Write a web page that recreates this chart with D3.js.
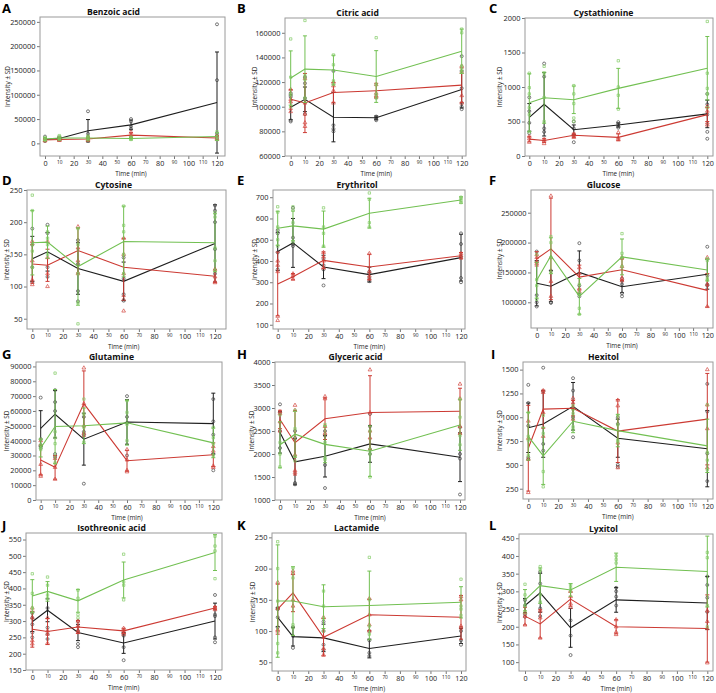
<!DOCTYPE html>
<html><head><meta charset="utf-8">
<script src="https://cdn.jsdelivr.net/npm/d3@7"></script>
<style>body{margin:0;background:#fff}svg{display:block}text{font-family:"Open Sans",sans-serif}</style>
</head><body><svg id="c" width="716" height="693"></svg>
<script>
// ---------------- DATA ----------------
const times = [0, 10, 30, 60, 120];
const xTicks = [0, 10, 20, 30, 40, 50, 60, 70, 80, 90, 100, 110, 120];
const metabolites = ["Benzoic acid","Citric acid","Cystathionine","Cytosine","Erythritol","Glucose",
  "Glutamine","Glyceric acid","Hexitol","Isothreonic acid","Lactamide","Lyxitol"];
const panelLetters = ["A","B","C","D","E","F","G","H","I","J","K","L"];
const yDomains = [[-26000,260000],[60000,172000],[0,2000],[34,250],[80,734],[57000,288000],
  [0,93000],[1000,4000],[142,1580],[150,570],[36,257],[75,462]];
const yTicks = [
  [0,50000,100000,150000,200000,250000],
  [60000,80000,100000,120000,140000,160000],
  [0,500,1000,1500,2000],
  [50,100,150,200,250],
  [100,200,300,400,500,600,700],
  [100000,150000,200000,250000],
  [0,10000,20000,30000,40000,50000,60000,70000,80000,90000],
  [1000,1500,2000,2500,3000,3500,4000],
  [250,500,750,1000,1250,1500],
  [150,200,250,300,350,400,450,500,550],
  [50,100,150,200,250],
  [100,150,200,250,300,350,400,450]
];
const blackMean = [
  [8000,10000,26000,38000,84000],[99500,106000,91500,91000,114000],[560,750,380,450,610],
  [143,154,128,108,167],[445,485,372,336,416],[132000,127000,150000,126000,147000],
  [48200,57800,41000,52600,51500],[2470,1830,1950,2220,1930],[890,930,1115,780,670],
  [298,333,265,233,300],[122,91,89,72,92],[260,296,197,276,267]];
const blackSD = [
  [3000,3000,23000,10000,104000],[10000,10000,20000,1500,15000],[200,460,70,30,200],
  [35,30,40,30,60],[90,115,55,35,110],[38000,26000,36000,10000,25000],
  [12000,16000,17500,15000,20500],[450,500,450,400,530],[260,350,250,200,400],
  [30,35,25,32,55],[15,15,22,15,12],[20,55,55,35,75]];
const redMean = [
  [7000,8000,9000,17000,11000],[106000,103000,111500,113000,117500],[245,225,300,270,600],
  [135,133,156,130,116],[292,326,403,372,425],[172800,189400,142200,154400,120000],
  [27000,22000,65000,26500,30500],[2750,2244,2765,2902,2930],[675,1085,1095,855,980],
  [275,268,282,270,340],[135,161,90,126,122],[230,208,278,200,195]];
const redSD = [
  [2500,3000,4000,5000,5000],[8000,24000,8000,6000,14000],[40,30,30,50,100],
  [30,25,35,45,10],[150,15,40,60,15],[12000,85000,20000,18000,28000],
  [10000,8000,22000,7000,8000],[200,700,450,800,500],[450,200,80,330,480],
  [55,40,20,8,5],[40,30,30,25,35],[25,40,20,20,95]];
const greenMean = [
  [9000,11000,11000,10000,14000],[123300,130500,129800,124500,145000],[772,845,815,980,1272],
  [168,169,131,170,168],[554,565,550,625,687],[137000,178000,110000,176000,154000],
  [35000,49500,50000,52000,38500],[2200,2430,2210,2060,2630],[800,595,958,860,700],
  [377,391,362,426,510],[148,148,139,141,146],[275,316,304,368,356]];
const greenSD = [
  [3000,4000,4000,3000,8000],[22000,27000,12000,21000,18000],[420,370,200,290,460],
  [50,25,60,55,45],[80,70,85,70,15],[30000,30000,30000,30000,18000],
  [6000,25000,12000,15000,10000],[500,500,400,550,550],[250,300,120,170,280],
  [50,30,35,55,55],[90,55,35,55,25],[30,50,18,40,100]];
const blackPts = [
  [[14000,9000,6000,5000],[12000,10000,8000],[66000,20000,10000,5000],[50000,45000,35000,30000],[245000,130000,20000,15000,10000]],
  [[111000,108000,89000,88000],[107000,119000,124000,94000],[129000,85000,82000,80000],[92000,91000,90000,89000],[141000,115000,103000,100000,98000]],
  [[850,650,480,330],[1340,1150,400,350],[500,400,300,200],[490,460,430,410],[900,750,600,350,250]],
  [[190,165,130,107],[196,183,130,115],[172,135,93,77],[145,112,88,78],[226,218,200,158,120]],
  [[545,530,440,360],[650,510,480,470],[410,380,360,285],[350,340,320,305],[530,480,420,320,300]],
  [[185000,168000,112000,100000,93000],[153000,100000,99000],[199000,170000,128000,110000],[140000,130000,115000,110000],[193000,145000,130000,128000]],
  [[69000,41000,37000,35000],[74000,66000,60000,31000,29000],[56000,46000,44000,11000],[70000,56000,52000,30000],[68000,53000,44000,31000,20000]],
  [[3080,2900,2500,2130],[2500,2350,1370,1340],[2500,2400,1760,1260],[2870,2600,2100,2000],[2580,2000,1900,1120]],
  [[1340,1150,910,580,560],[1520,1270,720,650],[1410,1280,1000,790],[1000,930,500,480],[1350,1060,620,330]],
  [[325,310,290,265,250],[340,280,260,245],[300,270,230,220],[260,255,220,180],[380,320,315,250,235]],
  [[137,135,122,106],[106,92,73],[115,100,78,70],[100,85,65,60],[105,100,85,78]],
  [[275,260,235,228],[355,322,252,230],[218,175,120],[310,300,285,260],[342,318,282,242]]];
const redPts = [
  [[9000,6000,5000],[10000,8000,6000],[12000,8000,6000],[23000,17000,12000],[15000,10000,8000]],
  [[114000,106000,104000,96000],[123000,103000,94000,87000,84000],[120000,117000,113000,103000],[118000,111000,109000,108000],[133000,128000,109000,103000]],
  [[280,250,200],[240,220,180],[320,300,270],[340,260,240],[720,650,480,450]],
  [[170,140,110,103],[170,145,120,100],[193,160,140,120],[175,150,120,80,62],[127,115,108,106]],
  [[400,380,350,140,120],[340,330,315],[440,420,400,370],[435,350,330,315],[435,425,415]],
  [[180000,175000,168000,165000],[278000,175000,135000,110000],[158000,148000,122000,118000],[175000,160000,140000,136000],[175000,130000,93000]],
  [[40000,24000,17000,16000],[28000,22000,14000],[89000,65000,50000,45000],[34000,27000,20000,19000],[36000,33000,23000,22000]],
  [[2920,2880,2700,2500],[3060,2950,1980,1640,1600],[3250,3200,2600,2450],[3830,2900,2500,2350],[3520,3200,2600,2450]],
  [[960,780,560,210],[1280,1260,1050,800],[1200,1150,1100,980],[1180,1120,730,470],[1500,1130,880,470]],
  [[340,310,240,230],[310,270,260,232],[300,285,270,265],[278,272,265,260],[343,340,335]],
  [[178,136,102,100],[196,192,150,140],[122,90,72,62],[152,126,110,100],[155,150,108,105]],
  [[240,230,205],[245,225,168],[300,285,265,255],[220,200,185,178],[245,215,195,98]]];
const greenPts = [
  [[12000,8000,6000],[16000,11000,8000],[15000,11000,7000],[13000,10000,8000],[24000,14000,8000]],
  [[155000,124000,110000,100000],[170000,125000,122000,107000],[142000,134000,121000,118000],[156000,118000,110000,107000],[163000,160000,133000,130000,128000]],
  [[1200,990,900,700,600,350],[1300,1200,850,500],[1020,900,760,550,500],[1380,1000,880,680],[1950,1200,980,900,700]],
  [[242,218,165,155,130],[185,175,165,150],[190,165,120,75,42],[225,195,185,150,120],[215,208,160,140,125]],
  [[655,630,560,500,470],[655,640,580,490],[650,560,530,470],[720,690,580,560],[700,695,685,675]],
  [[180000,138000,128000,105000],[210000,200000,175000,150000],[130000,115000,90000,80000],[215000,182000,175000,160000],[173000,170000,140000,137000]],
  [[41000,37000,35000,34000],[85500,46000,42000,38000,25000],[68000,58000,49000,39000],[67000,59000,51000,40000],[49000,42000,38000,30000]],
  [[2850,2250,2000,1720],[2950,2550,1950,1850],[2640,2250,1920,1880],[2500,2100,2000,1500],[3200,2800,2400,2200]],
  [[1050,800,760,600],[1020,830,430,270],[1120,1040,900,870],[1020,920,760,740],[1130,630,550,450]],
  [[445,385,340,325],[435,410,380,370],[395,370,320,310],[505,420,410,365],[560,530,515,430]],
  [[243,200,148,80,65],[201,185,110,105],[164,140,120,100],[218,150,108,95],[183,140,135,125]],
  [[320,290,260,240],[370,360,290,270],[318,310,300],[400,390,380],[410,395,260,200]]];

// ---------------- LAYOUT ----------------
const frames = [[40,225,17,156],[285,466,18,156],[525,713,18,156],
  [27,226,190,329],[273,465,190,329],[531,713,190,328],
  [36,222,362,500],[275,465,362,500],[523,713,362,499],
  [26,222,533,670],[272,466,533,671],[519,713,534,671]];
const xAnchors = [[45,217],[290.7,461.7],[529.3,707.3],[32.3,215],[277.7,461],[536.7,707.3],
  [40.7,213.3],[280,460],[528.3,707.3],[32.3,215],[277.7,461],[525,707.3]];
const yLabelX = [8,255,500,7,255,500,7,252,500,7,253,500];
const letterPos = [[2,13],[237,13],[489,13],[2,185],[237,185],[489,185],[2,359],[237,359],[491,359],[2,530],[237,530],[489,530]];

const styles = [
  {mean:blackMean, sd:blackSD, pts:blackPts, line:"#1e1e1e", mark:"#444", shape:d3.symbolCircle, size:7},
  {mean:redMean, sd:redSD, pts:redPts, line:"#cc3a33", mark:"#d2463f", shape:d3.symbolTriangle, size:6},
  {mean:greenMean, sd:greenSD, pts:greenPts, line:"#72c052", mark:"#84cb67", shape:d3.symbolSquare, size:5.5}
];

const svg = d3.select("#c");

metabolites.forEach((name, i) => {
  const [L, R, T, B] = frames[i];
  const x = d3.scaleLinear().domain([0, 120]).range(xAnchors[i]);
  const y = d3.scaleLinear().domain(yDomains[i]).range([B, T]);
  const g = svg.append("g");

  const ya = g.append("g").attr("transform", `translate(${L},0)`)
    .call(d3.axisLeft(y).tickValues(yTicks[i]).tickSize(3).tickPadding(1.5).tickFormat(d3.format("d")));
  ya.select(".domain").remove();
  ya.selectAll("line").attr("stroke", "#777");
  ya.selectAll("text").attr("font-size", 7.4).attr("fill", "#222").attr("font-family", "Open Sans");

  const xa = g.append("g").attr("transform", `translate(0,${B})`)
    .call(d3.axisBottom(x).tickValues(xTicks).tickSize(3).tickPadding(2));
  xa.select(".domain").remove();
  xa.selectAll("line").attr("stroke", "#777");
  xa.selectAll("text").attr("fill", "#222").attr("font-family", "Open Sans")
    .attr("font-size", d => (d / 10) % 2 === 1 ? 4.8 : 7.2)
    .attr("dy", d => (d / 10) % 2 === 1 ? "0.6em" : "0.71em");

  g.append("rect").attr("x", L).attr("y", T).attr("width", R - L).attr("height", B - T)
    .attr("fill", "none").attr("stroke", "#9a9a9a").attr("stroke-width", 1);

  styles.forEach(s => {
    const m = s.mean[i], sd = s.sd[i], pts = s.pts[i];
    times.forEach((t, k) => {
      const cx = x(t), y1 = y(m[k] - sd[k]), y2 = y(m[k] + sd[k]);
      g.append("line").attr("x1", cx).attr("x2", cx).attr("y1", y1).attr("y2", y2)
        .attr("stroke", s.line).attr("stroke-width", 1);
      [y1, y2].forEach(yy => g.append("line").attr("x1", cx - 2).attr("x2", cx + 2)
        .attr("y1", yy).attr("y2", yy).attr("stroke", s.line).attr("stroke-width", 1));
    });
    times.forEach((t, k) => {
      pts[k].forEach(v => {
        g.append("path").attr("d", d3.symbol().type(s.shape).size(s.size)())
          .attr("transform", `translate(${x(t)},${y(v)})`)
          .attr("fill", "none").attr("stroke", s.mark).attr("stroke-width", 0.7);
      });
    });
    g.append("path").datum(times.map((t, k) => [t, m[k]]))
      .attr("d", d3.line().x(d => x(d[0])).y(d => y(d[1])))
      .attr("fill", "none").attr("stroke", s.line).attr("stroke-width", 1.1);
  });

  g.append("text").attr("x", (yLabelX[i] - 6 + R) / 2).attr("y", T - 2.5)
    .attr("text-anchor", "middle").attr("font-size", 8.6).attr("font-weight", "bold")
    .attr("fill", "#111").text(name);
  g.append("text").attr("transform", `translate(${yLabelX[i]},${(T + B) / 2}) rotate(-90)`)
    .attr("text-anchor", "middle").attr("dy", "0.35em").attr("font-size", 6.4).attr("fill", "#222")
    .text("Intensity \u00b1 SD");
  g.append("text").attr("x", (x(0) + x(120)) / 2).attr("y", B + 20)
    .attr("text-anchor", "middle").attr("font-size", 6.4).attr("fill", "#222").text("Time (min)");
  g.append("text").attr("x", letterPos[i][0]).attr("y", letterPos[i][1])
    .attr("font-family", "Liberation Sans, Arial, sans-serif").attr("font-weight", "bold")
    .attr("font-size", 13).attr("fill", "#000").text(panelLetters[i]);
});
</script></body></html>
